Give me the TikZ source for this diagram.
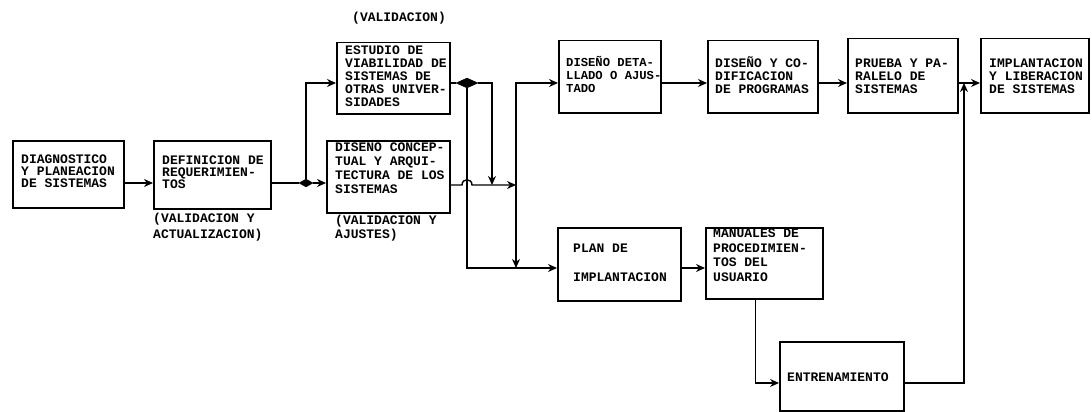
\documentclass[tikz,border=0pt]{standalone}
\usepackage{fontspec}
\newfontfamily\tw{Liberation Mono}
\usetikzlibrary{arrows.meta,shapes.geometric}
\tikzset{
  box/.style={draw, line width=1.5pt, inner sep=0pt, anchor=north west},
  txt/.style={anchor=north west, inner sep=0pt, align=left, font=\tw\bfseries\fontsize{13}{#1}\selectfont},
  txt/.default=13,
  conn/.style={line width=1.4pt},
  arr/.style={line width=1.4pt, -{Stealth[length=9pt,width=8pt]}},
  dia/.style={shape=diamond, fill=black, draw=black, inner sep=0pt}
}
\newcommand{\st}{\rule{0pt}{12pt}}
\begin{document}
\begin{tikzpicture}[x=1pt,y=-1pt]
\useasboundingbox (0,0) rectangle (1092,412);
% levels
\coordinate (L1) at (0,183);
\coordinate (Lm) at (0,185);
\coordinate (Ltop) at (0,83);
\coordinate (Lplan) at (0,268);
\coordinate (Lent) at (0,383);
% boxes
\node[box, minimum width=111pt, minimum height=67pt] (diag) at (12,140) {};
\node[box, minimum width=117pt, minimum height=68pt] (def) at (153,140) {};
\node[box, minimum width=113pt, minimum height=71pt] (estudio) at (336,42) {};
\node[box, minimum width=123pt, minimum height=72pt] (concep) at (326,140) {};
\node[box, minimum width=102pt, minimum height=72pt] (detal) at (558,40) {};
\node[box, minimum width=110pt, minimum height=72pt] (codif) at (707,40) {};
\node[box, minimum width=110pt, minimum height=74pt] (prueba) at (847,38) {};
\node[box, minimum width=108pt, minimum height=74pt] (implan) at (980,38) {};
\node[box, minimum width=123pt, minimum height=73pt] (plan) at (557,227) {};
\node[box, minimum width=117pt, minimum height=71pt] (manual) at (705,227) {};
\node[box, minimum width=124pt, minimum height=69pt] (entren) at (779,341) {};
% texts
\node[txt=12] (tdiag) at (21,151.5) {\st DIAGNOSTICO\\Y PLANEACION\\DE SISTEMAS};
\node[txt=12] (tdef) at (162,152) {\st DEFINICION DE\\REQUERIMIEN-\\TOS};
\node[txt=16] (ldef) at (153,210.5) {\st (VALIDACION Y\\ACTUALIZACION)};
\node[txt=13] (testudio) at (345,42.5) {\st ESTUDIO DE\\VIABILIDAD DE\\SISTEMAS DE\\OTRAS UNIVER-\\SIDADES};
\node[txt] (lestudio) at (352,9.5) {\st (VALIDACION)};
\node[txt=14] (tconcep) at (335,139.5) {\st DISEÑO CONCEP-\\TUAL Y ARQUI-\\TECTURA DE LOS\\SISTEMAS};
\node[txt=14] (lconcep) at (335,212.5) {\st (VALIDACION Y\\AJUSTES)};
\node[txt=13, font=\tw\bfseries\fontsize{12.2}{13}\selectfont] (tdetal) at (566,54.5) {\st DISEÑO DETA-\\LLADO O AJUS-\\TADO};
\node[txt=13] (tcodif) at (715,55) {\st DISEÑO Y CO-\\DIFICACION\\DE PROGRAMAS};
\node[txt=13] (tprueba) at (855,55) {\st PRUEBA Y PA-\\RALELO DE\\SISTEMAS};
\node[txt=13] (timplan) at (989,55) {\st IMPLANTACION\\Y LIBERACION\\DE SISTEMAS};
\node[txt=14.5] (tplan) at (573,240.5) {\st PLAN DE\\\\IMPLANTACION};
\node[txt=14.5] (tmanual) at (713,225.5) {\st MANUALES DE\\PROCEDIMIEN-\\TOS DEL\\USUARIO};
\node[txt] (tentren) at (787,369.5) {\st ENTRENAMIENTO};
% diamonds
\node[dia, minimum width=14pt, minimum height=8pt] (d1) at (306,183) {};
\node[dia, minimum width=22pt, minimum height=10pt] (d2) at (467,83) {};
% junction coordinates
\coordinate (j2) at (492,185);
\coordinate (j3) at (516,185);
\coordinate (h1) at (462,185);
\coordinate (h2) at (472,185);
\coordinate (j5) at (964,83);
% connectors
\draw[arr] (diag.east |- L1) -- (def.west |- L1);
\draw[conn] (def.east |- d1) -- (d1.west);
\draw[arr] (d1.east) -- (concep.west |- d1);
\draw[arr] (d1.north) |- (estudio.west |- Ltop);
\draw[conn] (estudio.east |- d2) -- (d2.west);
\draw[arr] (d2.east) -| (j2);
\draw[arr] (d2.south) |- (plan.west |- Lplan);
\draw[arr] (concep.east |- Lm) -- (h1) .. controls (462,178) and (472,178) .. (h2) -- (j3);
\draw[arr] (j3) |- (detal.west |- Ltop);
\draw[arr] (j3) -- (j3 |- Lplan);
\draw[arr] (detal.east |- Ltop) -- (codif.west |- Ltop);
\draw[arr] (codif.east |- Ltop) -- (prueba.west |- Ltop);
\draw[arr] (prueba.east |- Ltop) -- (implan.west |- Ltop);
\draw[arr] (plan.east |- Lplan) -- (manual.west |- Lplan);
\draw[arr] ([xshift=-9pt]manual.south) |- (entren.west |- Lent);
\draw[arr] (entren.east |- Lent) -| (j5);
\end{tikzpicture}
\end{document}
